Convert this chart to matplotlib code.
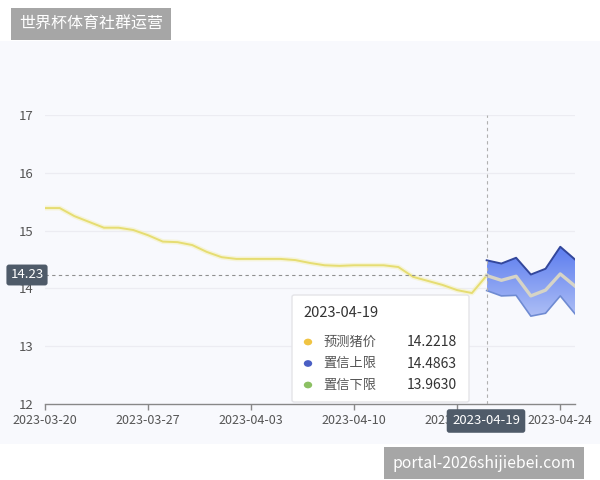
import matplotlib
matplotlib.use("Agg")
import matplotlib.pyplot as plt
import matplotlib.dates as mdates
from matplotlib.patches import Rectangle, FancyBboxPatch, Circle
from matplotlib.colors import LinearSegmentedColormap
import numpy as np
import pandas as pd

plt.rcParams['font.family'] = ['Noto Sans CJK SC', 'DejaVu Sans']

# 历史猪价 (03-20 ~ 04-19)
hist_dates = pd.date_range('2023-03-20', '2023-04-19')
hist_price = [15.39, 15.39, 15.25, 15.15, 15.05, 15.05, 15.01, 14.92, 14.81, 14.80,
              14.75, 14.63, 14.54, 14.51, 14.51, 14.51, 14.51, 14.49, 14.44, 14.40,
              14.39, 14.40, 14.40, 14.40, 14.37, 14.20, 14.13, 14.06, 13.97, 13.92,
              14.2218]

# 预测区间 (04-19 ~ 04-25)
fc_dates = pd.date_range('2023-04-19', '2023-04-25')
fc_mid = [14.2218, 14.14, 14.21, 13.87, 13.97, 14.25, 14.04]
fc_upper = [14.4863, 14.43, 14.53, 14.24, 14.34, 14.72, 14.50]
fc_lower = [13.9630, 13.87, 13.88, 13.52, 13.57, 13.87, 13.56]

tick_dates = pd.to_datetime(['2023-03-20', '2023-03-27', '2023-04-03',
                             '2023-04-10', '2023-04-17', '2023-04-24'])
y_ticks = [12, 13, 14, 15, 16, 17]

sel_date = pd.Timestamp('2023-04-19')
sel_label = '2023-04-19'
sel_value = 14.23
tip_names = ['预测猪价', '置信上限', '置信下限']
tip_values = ['14.2218', '14.4863', '13.9630']
tip_colors = ['#f0c443', '#4a5fc4', '#8cc063']

W, H = 600, 480
fig = plt.figure(figsize=(6, 4.8), dpi=100, facecolor='white')


def px(x, y):
    return x / W, 1 - y / H


# 背景面板
fig.patches.append(Rectangle(px(0, 444), 1, (444 - 41) / H, transform=fig.transFigure,
                             facecolor='#f8f9fd', edgecolor='none', zorder=-5))

ax = fig.add_axes([45 / W, 1 - 404 / H, 530 / W, 289 / H])
ax.set_facecolor('none')
ax.set_zorder(1)

# 网格
for v in y_ticks[1:]:
    ax.axhline(v, color='#ececf2', lw=0.9, zorder=1)

# 历史线
ax.plot(hist_dates, hist_price, color='#f5f1c0', lw=3.5, alpha=0.6, zorder=3,
        solid_capstyle='round')
ax.plot(hist_dates, hist_price, color='#e6dd72', lw=1.4, zorder=4)

# 预测区间 渐变填充
poly = ax.fill_between(fc_dates, fc_lower, fc_upper, facecolor='none', edgecolor='none')
cmap = LinearSegmentedColormap.from_list('band', ['#adbef5', '#5b7cef'])
grad = np.linspace(0, 1, 256).reshape(-1, 1)
x0 = mdates.date2num(fc_dates[0])
x1 = mdates.date2num(fc_dates[-1])
im = ax.imshow(grad, extent=[x0, x1, min(fc_lower), max(fc_upper)], origin='lower',
               aspect='auto', cmap=cmap, zorder=2)
im.set_clip_path(poly.get_paths()[0], transform=ax.transData)
ax.plot(fc_dates, fc_upper, color='#33479c', lw=1.4, zorder=4)
ax.plot(fc_dates, fc_lower, color='#6f8bd2', lw=1.2, zorder=4)
ax.plot(fc_dates, fc_mid, color='#d6d4c6', lw=2.4, zorder=4)

ax.set_xlim(pd.Timestamp('2023-03-20'), pd.Timestamp('2023-04-25'))
ax.set_ylim(12, 17)

# 十字线
ax.axvline(sel_date, color='#b0b0b0', lw=0.8, ls=(0, (3, 3)), zorder=5)
ax.plot([hist_dates[0], sel_date], [sel_value, sel_value], color='#909090', lw=0.8,
        ls=(0, (3, 3)), zorder=5)

ax.set_yticks(y_ticks)
ax.set_xticks(tick_dates)
ax.xaxis.set_major_formatter(mdates.DateFormatter('%Y-%m-%d'))
ax.tick_params(axis='y', length=0, pad=8, labelsize=9.5, labelcolor='#555555')
ax.tick_params(axis='x', length=4, width=1, color='#888888', pad=3, labelsize=9,
               labelcolor='#555555')
for s in ['top', 'right', 'left']:
    ax.spines[s].set_visible(False)
ax.spines['bottom'].set_color('#888888')
ax.spines['bottom'].set_linewidth(1)

# 提示框
fig.patches.append(FancyBboxPatch(px(292, 402), (469 - 292) / W, (402 - 295) / H,
                                  boxstyle='round,pad=0,rounding_size=0.004',
                                  transform=fig.transFigure, facecolor='white',
                                  edgecolor='#e4e4e8', lw=1, zorder=10))
fig.text(*px(303, 313), sel_label, fontsize=10.5, color='#333333', va='center',
         ha='left', zorder=11)
for i, (n, v, c) in enumerate(zip(tip_names, tip_values, tip_colors)):
    yy = 342 + i * 21.5
    fig.patches.append(Circle(px(308, yy), 4.2 / W, transform=fig.transFigure,
                              facecolor=c, edgecolor='none', zorder=11))
    fig.text(*px(323, yy), n, fontsize=9.5, color='#555555', va='center', ha='left',
             zorder=11)
    fig.text(*px(457, yy), v, fontsize=10, color='#333333', va='center', ha='right',
             zorder=11)

# 坐标轴指示标签
fig.text(*px(27, 275), '14.23', fontsize=9.5, color='white', va='center', ha='center',
         zorder=12, bbox=dict(boxstyle='round,pad=0.3,rounding_size=0.2',
                              facecolor='#4f5b69', edgecolor='none'))
fig.text(*px(486, 421), sel_label, fontsize=9.5, color='white', va='center', ha='center',
         zorder=12, bbox=dict(boxstyle='round,pad=0.4,rounding_size=0.2',
                              facecolor='#4f5b69', edgecolor='none'))

# 顶部标签与水印
fig.text(*px(91, 24), '世界杯体育社群运营', fontsize=11.5, color='white', va='center',
         ha='center', zorder=12,
         bbox=dict(boxstyle='square,pad=0.5', facecolor='#a6a6a6', edgecolor='none'))
fig.text(*px(484, 463), 'portal-2026shijiebei.com', fontsize=11.3, color='white',
         va='center', ha='center', zorder=12,
         bbox=dict(boxstyle='square,pad=0.5', facecolor='#a6a6a6', edgecolor='none'))

fig.savefig('out.png', dpi=100, facecolor='white')
